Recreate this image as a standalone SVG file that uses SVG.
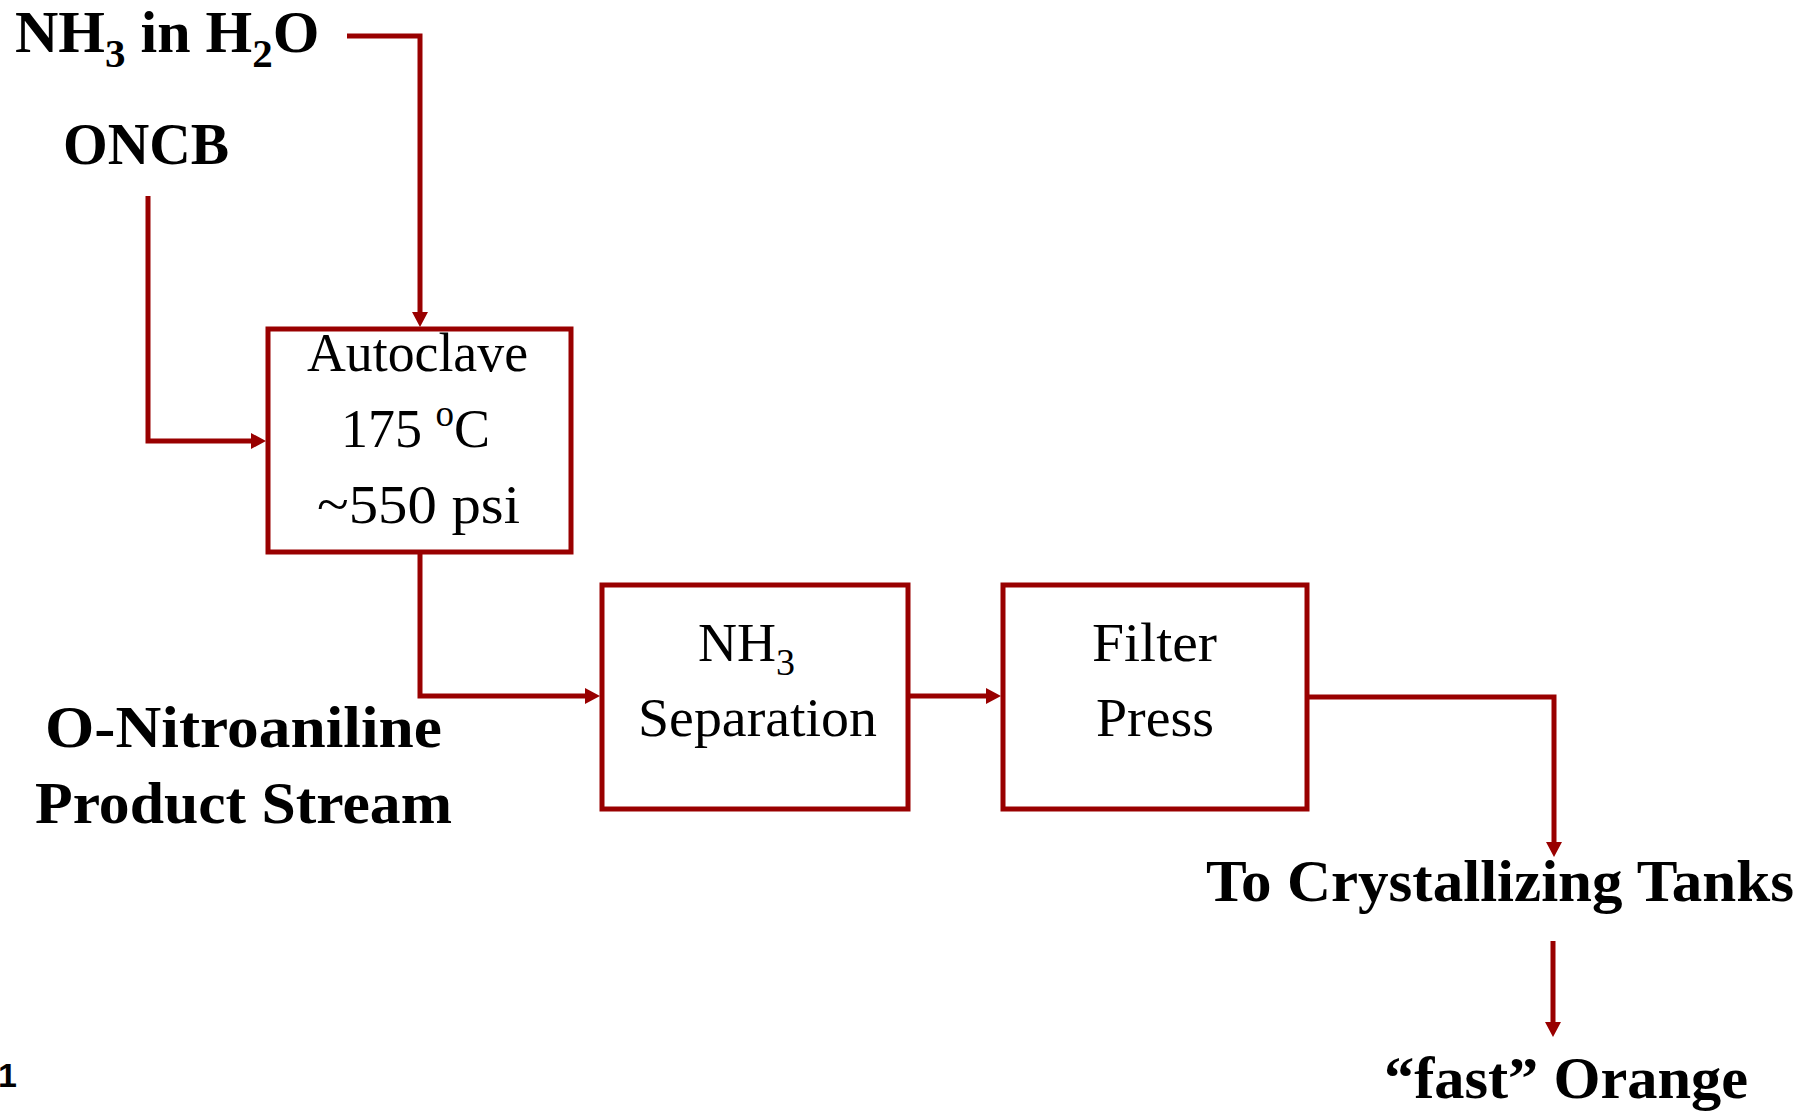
<svg xmlns="http://www.w3.org/2000/svg" width="1803" height="1112" viewBox="0 0 1803 1112">
  <style>
    .bg { fill: #ffffff; }
    .box { fill: none; stroke: #990000; stroke-width: 5; }
    .conn { fill: none; stroke: #990000; stroke-width: 5; stroke-linecap: butt; stroke-linejoin: miter; }
    .lbl { font-family: "Liberation Serif", "Times New Roman", serif; font-weight: bold; font-size: 60px; fill: #000000; }
    .btxt { font-family: "Liberation Serif", "Times New Roman", serif; font-size: 54px; fill: #000000; }
    .pg { font-family: "Liberation Sans", Arial, sans-serif; font-weight: bold; font-size: 34px; fill: #000000; }
  </style>
  <defs>
    <marker id="arrow" markerUnits="userSpaceOnUse" markerWidth="16" markerHeight="18" viewBox="0 -9 16 18" refX="0" refY="0" orient="auto">
      <path d="M0,-8 L15,0 L0,8 Z" fill="#990000"/>
    </marker>
  </defs>
  <rect class="bg" x="0" y="0" width="1803" height="1112"/>

  <g id="connectors">
    <path class="conn" d="M347,36 H420 V312" marker-end="url(#arrow)"/>
    <path class="conn" d="M148,196 V441 H251" marker-end="url(#arrow)"/>
    <path class="conn" d="M420,552 V696 H585" marker-end="url(#arrow)"/>
    <path class="conn" d="M908,696 H986" marker-end="url(#arrow)"/>
    <path class="conn" d="M1307,697 H1554 V842" marker-end="url(#arrow)"/>
    <path class="conn" d="M1553,941 V1022" marker-end="url(#arrow)"/>
  </g>

  <g id="feed-nh3">
    <text class="lbl" x="15" y="52" font-size="62.5">NH<tspan font-size="41" dy="15">3</tspan><tspan dy="-15"> in H</tspan><tspan font-size="41" dy="15">2</tspan><tspan dy="-15">O</tspan></text>
  </g>
  <g id="feed-oncb">
    <text class="lbl" x="63" y="164" textLength="166" lengthAdjust="spacingAndGlyphs">ONCB</text>
  </g>

  <g id="autoclave">
    <rect class="box" x="268" y="329" width="303" height="223"/>
    <text class="btxt" x="307" y="371" textLength="221" lengthAdjust="spacingAndGlyphs">Autoclave</text>
    <text class="btxt" x="341" y="447">175 <tspan font-size="37" dy="-21">o</tspan><tspan dy="21">C</tspan></text>
    <text class="btxt" x="317" y="523" textLength="203" lengthAdjust="spacingAndGlyphs">~550 psi</text>
  </g>

  <g id="product-stream-label">
    <text class="lbl" x="45" y="747" textLength="397" lengthAdjust="spacingAndGlyphs">O-Nitroaniline</text>
    <text class="lbl" x="35" y="823" textLength="417" lengthAdjust="spacingAndGlyphs">Product Stream</text>
  </g>

  <g id="nh3-separation">
    <rect class="box" x="602" y="585" width="306" height="224"/>
    <text class="btxt" x="698" y="661" font-size="57">NH<tspan font-size="38" dy="14">3</tspan></text>
    <text class="btxt" x="638" y="736" textLength="239" lengthAdjust="spacingAndGlyphs">Separation</text>
  </g>

  <g id="filter-press">
    <rect class="box" x="1003" y="585" width="304" height="224"/>
    <text class="btxt" x="1092" y="661" textLength="125" lengthAdjust="spacingAndGlyphs">Filter</text>
    <text class="btxt" x="1096" y="736" textLength="118" lengthAdjust="spacingAndGlyphs">Press</text>
  </g>

  <g id="crystallizing-tanks">
    <text class="lbl" x="1206" y="901" textLength="588" lengthAdjust="spacingAndGlyphs">To Crystallizing Tanks</text>
  </g>

  <g id="fast-orange">
    <text class="lbl" x="1384" y="1098" textLength="364" lengthAdjust="spacingAndGlyphs">“fast” Orange</text>
  </g>

  <g id="page-number">
    <text class="pg" x="-2" y="1087">1</text>
  </g>
</svg>
